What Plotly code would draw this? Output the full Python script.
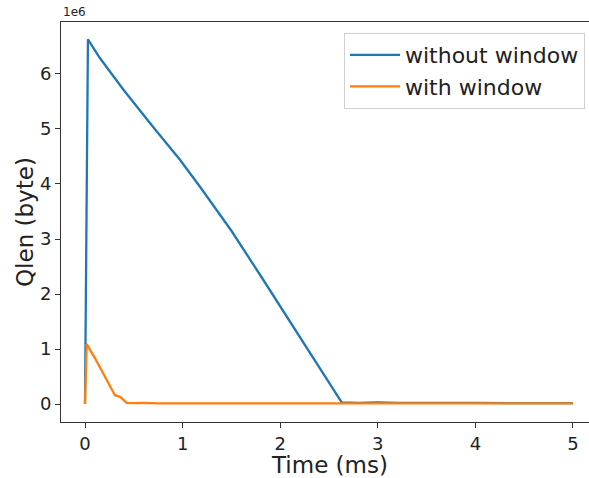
import plotly.graph_objects as go

# Time (ms)
t_without = [0.0, 0.03, 0.154, 0.40, 0.70, 0.973, 1.178, 1.50, 1.793, 1.947, 2.30, 2.63,
             2.8, 3.0, 3.2, 3.5, 4.0, 4.5, 5.0]
q_without = [0.0, 6.63e6, 6.285e6, 5.70e6, 5.03e6, 4.44e6, 3.95e6, 3.15e6, 2.35e6, 1.92e6, 0.95e6, 0.03e6,
             0.02e6, 0.03e6, 0.02e6, 0.015e6, 0.02e6, 0.015e6, 0.015e6]

t_with = [0.0, 0.017, 0.10, 0.20, 0.307, 0.36, 0.427, 0.5, 0.6, 0.75, 1.0, 1.5, 2.0, 2.5,
          3.0, 3.5, 4.0, 4.5, 5.0]
q_with = [0.0, 1.09e6, 0.84e6, 0.52e6, 0.16e6, 0.13e6, 0.02e6, 0.015e6, 0.02e6, 0.01e6, 0.012e6,
          0.01e6, 0.012e6, 0.01e6, 0.012e6, 0.01e6, 0.012e6, 0.01e6, 0.01e6]

y_tickvals = [0, 1e6, 2e6, 3e6, 4e6, 5e6, 6e6]
y_ticktext = ["0", "1", "2", "3", "4", "5", "6"]
x_tickvals = [0, 1, 2, 3, 4, 5]

FONT = "DejaVu Sans"

fig = go.Figure()
fig.add_trace(go.Scatter(x=t_without, y=q_without, mode="lines", name="without window",
                         line=dict(color="#1f77b4", width=2.3)))
fig.add_trace(go.Scatter(x=t_with, y=q_with, mode="lines", name="with window",
                         line=dict(color="#ff7f0e", width=2.3)))

axis_common = dict(showgrid=False, zeroline=False, showline=True, linecolor="#333333",
                   linewidth=1, mirror=True, ticks="outside", ticklen=5, tickwidth=1,
                   tickcolor="#333333", automargin=False,
                   tickfont=dict(family=FONT, size=18, color="#222222"))

fig.update_layout(
    width=589, height=478,
    margin=dict(l=61, r=0, t=22, b=56),
    paper_bgcolor="white", plot_bgcolor="white",
    font=dict(family=FONT, color="#222222"),
    xaxis=dict(range=[-0.246, 5.164], tickvals=x_tickvals, **axis_common),
    yaxis=dict(range=[-0.327e6, 6.945e6], tickvals=y_tickvals, ticktext=y_ticktext,
               **axis_common),
    legend=dict(x=0.9924, y=0.9725, xanchor="right", yanchor="top",
                bordercolor="#d0d0d0", borderwidth=1, bgcolor="rgba(255,255,255,0.8)",
                font=dict(family=FONT, size=22, color="#222222"),
                tracegroupgap=0, itemwidth=50),
    showlegend=True,
    annotations=[
        dict(text="1e6", x=0, y=1, xref="paper", yref="paper",
             xanchor="left", yanchor="bottom", showarrow=False, yshift=1,
             font=dict(family=FONT, size=12, color="#222222")),
        dict(text="Time (ms)", x=2.5, y=0, xref="x", yref="paper",
             xanchor="center", yanchor="middle", showarrow=False, yshift=-43,
             font=dict(family=FONT, size=23, color="#222222")),
        dict(text="Qlen (byte)", x=0, y=0.5, xref="paper", yref="paper",
             xanchor="center", yanchor="middle", showarrow=False, xshift=-36,
             textangle=-90, font=dict(family=FONT, size=23, color="#222222")),
    ],
)

fig.write_html("out.html", config={"displayModeBar": False},
               post_script="document.body.style.margin='0';document.body.style.overflow='hidden';")
